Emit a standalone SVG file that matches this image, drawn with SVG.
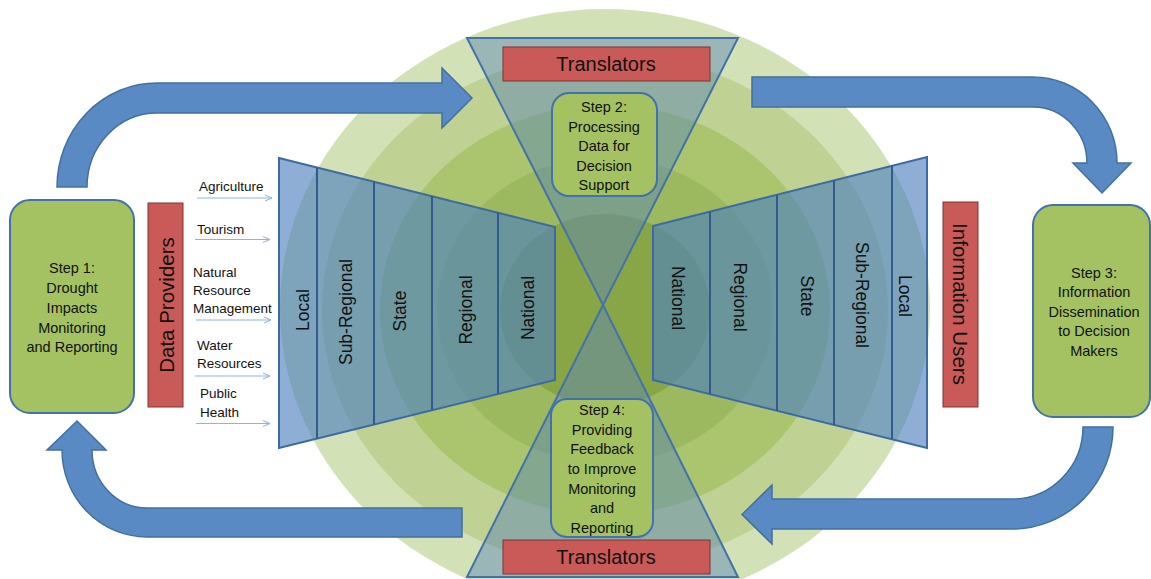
<svg xmlns="http://www.w3.org/2000/svg" width="1151" height="579" viewBox="0 0 1151 579">
<defs>
<style>
text{font-family:"Liberation Sans",Arial,sans-serif;fill:#111}
.step{fill:#a5c262;stroke:#4172ad;stroke-width:2}
.red{fill:#c95a57;stroke:#7f3533;stroke-width:1}
.trap{fill:#4f81bd;fill-opacity:0.64;stroke:#3d6aa3;stroke-width:2}
.div{stroke:#2f5b8f;stroke-width:2}
.tri{fill:#5b86b5;fill-opacity:0.48;stroke:#4372aa;stroke-width:2}
.big{fill:#5a8ac4;stroke:#41709f;stroke-width:1.5}
.st{font-size:14.5px;text-anchor:middle}
.lv{font-size:17.5px;text-anchor:middle;dominant-baseline:central}
.lab{font-size:13.5px}
.sm{stroke:#8db3e2;stroke-width:1;fill:none}
</style>
<marker id="ah" viewBox="0 0 8 8" refX="7" refY="4" markerWidth="8" markerHeight="8" markerUnits="userSpaceOnUse" orient="auto">
<path d="M0,1 L7,4 L0,7" fill="none" stroke="#8db3e2" stroke-width="1"/>
</marker>
</defs>
<rect width="1151" height="579" fill="#ffffff"/>
<g id="rings">
<ellipse cx="605" cy="308" rx="325" ry="299" fill="#d3e2b6"/>
<ellipse cx="605" cy="310" rx="283" ry="257" fill="#bfd293"/>
<ellipse cx="605" cy="310" rx="225" ry="205" fill="#aac56d"/>
<ellipse cx="605" cy="310" rx="168" ry="153" fill="#9cb95f"/>
<ellipse cx="605" cy="310" rx="105" ry="96" fill="#89a647"/>
</g>
<g id="connectors">
<path class="big" d="M57,187 A100,104 0 0 1 157,83 L442,83 L442,68 L472,98 L442,128 L442,113 L157,113 A70,74 0 0 0 87,187 Z"/>
<path class="big" d="M752,77 L1033,77 A84,86 0 0 1 1117,163 L1131,163 L1102,193 L1073,163 L1087,163 A54,56 0 0 0 1033,107 L752,107 Z"/>
<path class="big" d="M1083,427 L1113,427 A101,102 0 0 1 1012,529 L772,529 L772,544 L742,514.5 L772,485 L772,499 L1012,499 A71,72 0 0 0 1083,427 Z"/>
<path class="big" d="M462,508 L462,537 L147,537 A85,87 0 0 1 62,450 L47,450 L77,421 L106,450 L92,450 A55,58 0 0 0 147,508 Z"/>
<line class="sm" x1="197" y1="198" x2="272" y2="198" marker-end="url(#ah)"/>
<line class="sm" x1="195" y1="239.5" x2="270" y2="239.5" marker-end="url(#ah)"/>
<line class="sm" x1="196" y1="320" x2="271" y2="320" marker-end="url(#ah)"/>
<line class="sm" x1="195" y1="376" x2="270" y2="376" marker-end="url(#ah)"/>
<line class="sm" x1="196" y1="423.5" x2="270" y2="423.5" marker-end="url(#ah)"/>
</g>
<g id="left-levels">
<polygon class="trap" points="279,158 555,227 555,380 279,448"/>
<line class="div" x1="317" y1="167.5" x2="317" y2="438.6"/>
<line class="div" x1="374" y1="181.8" x2="374" y2="424.6"/>
<line class="div" x1="432" y1="196.3" x2="432" y2="410.3"/>
<line class="div" x1="498" y1="212.8" x2="498" y2="394"/>
<text class="lv" transform="rotate(-90 303 310)" x="303" y="310">Local</text>
<text class="lv" transform="rotate(-90 346 312)" x="346" y="312">Sub-Regional</text>
<text class="lv" transform="rotate(-90 400 311)" x="400" y="311">State</text>
<text class="lv" transform="rotate(-90 466 310)" x="466" y="310">Regional</text>
<text class="lv" transform="rotate(-90 528 308)" x="528" y="308">National</text>
</g>
<g id="right-levels">
<polygon class="trap" points="653,226 927,157 927,448 653,380"/>
<line class="div" x1="710" y1="211.6" x2="710" y2="394.2"/>
<line class="div" x1="777" y1="194.8" x2="777" y2="410.8"/>
<line class="div" x1="834" y1="180.4" x2="834" y2="424.9"/>
<line class="div" x1="892" y1="165.8" x2="892" y2="439.3"/>
<text class="lv" transform="rotate(90 678 298)" x="678" y="298">National</text>
<text class="lv" transform="rotate(90 740 297)" x="740" y="297">Regional</text>
<text class="lv" transform="rotate(90 807 296)" x="807" y="296">State</text>
<text class="lv" transform="rotate(90 862 295)" x="862" y="295">Sub-Regional</text>
<text class="lv" transform="rotate(90 905 296)" x="905" y="296">Local</text>
</g>
<g id="hourglass">
<polygon class="tri" points="467,38 738,38 603,305"/>
<polygon class="tri" points="603,305 738,577 467,577"/>
</g>
<g id="translators-top">
<rect class="red" x="503" y="47" width="207" height="34"/>
<text x="606" y="71" font-size="20" text-anchor="middle">Translators</text>
</g>
<g id="translators-bottom">
<rect class="red" x="503" y="540" width="207" height="34"/>
<text x="606" y="564" font-size="20" text-anchor="middle">Translators</text>
</g>
<g id="step2">
<rect class="step" x="552" y="93" width="105" height="103" rx="17"/>
<text class="st" x="604" y="112">Step 2:</text>
<text class="st" x="604" y="131.5">Processing</text>
<text class="st" x="604" y="151">Data for</text>
<text class="st" x="604" y="170.5">Decision</text>
<text class="st" x="604" y="190">Support</text>
</g>
<g id="step4">
<rect class="step" x="551" y="399" width="102" height="138" rx="16"/>
<text class="st" x="602" y="415">Step 4:</text>
<text class="st" x="602" y="434.5">Providing</text>
<text class="st" x="602" y="454">Feedback</text>
<text class="st" x="602" y="474">to Improve</text>
<text class="st" x="602" y="493.5">Monitoring</text>
<text class="st" x="602" y="513">and</text>
<text class="st" x="602" y="532.5">Reporting</text>
</g>
<g id="step1">
<rect class="step" x="10" y="200" width="124" height="213" rx="20"/>
<text class="st" x="72" y="273">Step 1:</text>
<text class="st" x="72" y="293">Drought</text>
<text class="st" x="72" y="312.5">Impacts</text>
<text class="st" x="72" y="332.5">Monitoring</text>
<text class="st" x="72" y="352">and Reporting</text>
</g>
<g id="data-providers">
<rect class="red" x="148" y="203" width="35" height="204"/>
<text x="166" y="305" font-size="20.5" text-anchor="middle" dominant-baseline="central" transform="rotate(-90 166 305)">Data Providers</text>
</g>
<g id="sectors">
<text class="lab" x="199" y="191">Agriculture</text>
<text class="lab" x="197" y="234">Tourism</text>
<text class="lab" x="193" y="277">Natural</text>
<text class="lab" x="193" y="295">Resource</text>
<text class="lab" x="193" y="313">Management</text>
<text class="lab" x="197" y="350">Water</text>
<text class="lab" x="197" y="368">Resources</text>
<text class="lab" x="200" y="398">Public</text>
<text class="lab" x="200" y="417">Health</text>
</g>
<g id="information-users">
<rect class="red" x="943" y="202" width="35" height="205"/>
<text x="960" y="304" font-size="20.5" text-anchor="middle" dominant-baseline="central" transform="rotate(90 960 304)">Information Users</text>
</g>
<g id="step3">
<rect class="step" x="1033" y="205" width="117" height="212" rx="20"/>
<text class="st" x="1094" y="278">Step 3:</text>
<text class="st" x="1094" y="297">Information</text>
<text class="st" x="1094" y="316.5">Dissemination</text>
<text class="st" x="1094" y="336">to Decision</text>
<text class="st" x="1094" y="356">Makers</text>
</g>
</svg>
